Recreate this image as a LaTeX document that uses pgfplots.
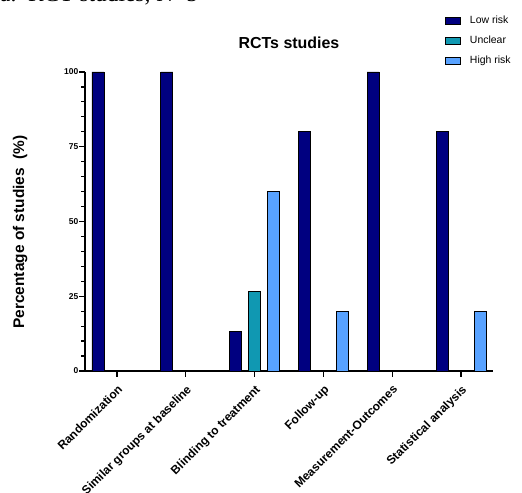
\documentclass[border=0pt]{standalone}
\usepackage{fontspec}
\setmainfont{Liberation Sans}
\newfontfamily\serifname{Liberation Serif}
\usepackage{pgfplots}
\pgfplotsset{compat=1.18}
\definecolor{lowrisk}{RGB}{0,0,128}
\definecolor{unclear}{RGB}{16,152,178}
\definecolor{highrisk}{RGB}{88,162,255}
\begin{document}
\begin{tikzpicture}
\begin{axis}[
  at={(0,0)}, anchor=south west,
  scale only axis, width=408bp, height=299bp,
  xmin=-0.465, xmax=5.465, ymin=0, ymax=100,
  enlargelimits=false,
  axis x line=bottom, axis y line=left,
  x axis line style={-}, y axis line style={-},
  axis line style={line width=1.6bp},
  ybar=7bp, bar width=12bp,
  xtick={0,1,2,3,4,5},
  xticklabels={Randomization,Similar groups at baseline,Blinding to treatment,Follow-up,Measurement-Outcomes,Statistical analysis},
  ytick={0,25,50,75,100},
  tick align=outside,
  major tick length=5.5bp,
  every tick/.style={line width=1.2bp, black},
  /pgf/number format/assume math mode=true,
  yticklabel style={font=\bfseries\fontsize{8.5}{10}\selectfont, inner sep=1bp},
  xticklabel shift=6bp,
  xticklabel style={rotate=45, anchor=north east, font=\bfseries\fontsize{12}{14}\selectfont, inner sep=1bp},
  ylabel={Percentage of studies~~(\%)},
  ylabel style={at={(axis description cs:-0.159,0.465)}, anchor=center, font=\bfseries\fontsize{15.5}{18}\selectfont},
  title={RCTs studies},
  title style={at={(axis description cs:0.5,1.077)}, anchor=center, font=\bfseries\fontsize{16}{19}\selectfont},
  legend style={at={(axis description cs:0.875,1.197)}, anchor=north west, draw=none, fill=none,
    font=\fontsize{10.5}{12}\selectfont, row sep=9bp,
    nodes={text height=7bp, text depth=2bp, inner sep=1bp}},
  legend cell align=left,
  /tikz/every odd column/.append style={column sep=8bp},
  legend image code/.code={\draw[#1, line width=0.8bp] (0bp,-3.5bp) rectangle (15bp,3.5bp);},
]
\addplot[fill=lowrisk, draw=black, line width=0.8bp] coordinates {(0,100) (1,100) (2,13.33) (3,80) (4,100) (5,80)};
\addplot[fill=unclear, draw=black, line width=0.8bp] coordinates {(2,26.67)};
\addplot[fill=highrisk, draw=black, line width=0.8bp] coordinates {(2,60) (3,20) (5,20)};
\legend{Low risk, Unclear, High risk}
\end{axis}
\begin{axis}[
  at={(0,0)}, anchor=south west,
  scale only axis, width=408bp, height=299bp,
  xmin=-0.465, xmax=5.465, ymin=0, ymax=100,
  enlargelimits=false,
  axis x line=none, axis y line=left,
  y axis line style={-, line width=1.6bp},
  xtick=\empty,
  ytick={5,10,15,20,30,35,40,45,55,60,65,70,80,85,90,95},
  yticklabels={},
  tick align=outside,
  major tick length=3.5bp,
  every tick/.style={line width=1.2bp, black},
]
\end{axis}
\node[anchor=base west, inner sep=0pt, font=\serifname\fontsize{23.5}{27}\selectfont] at (-85bp,369.5bp) {a.\ \ RCT studies, N=5};
\pgfresetboundingbox
\path[use as bounding box] (-85bp,-122bp) rectangle (437bp,371bp);
\end{tikzpicture}
\end{document}
